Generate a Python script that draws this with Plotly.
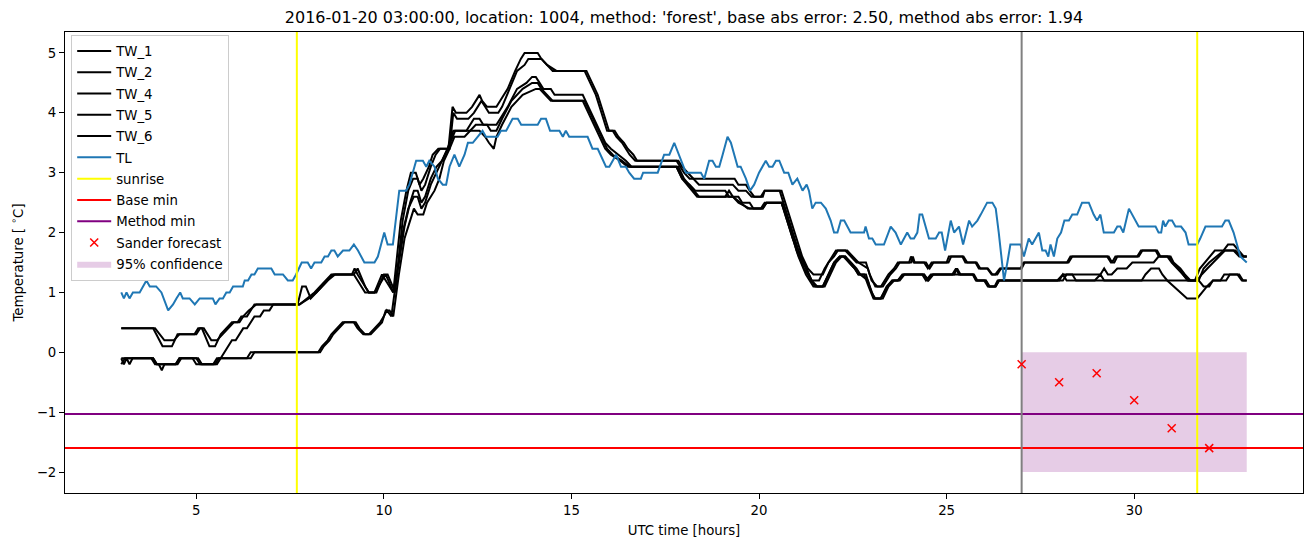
import plotly.graph_objects as go

# ---------------- data (hours UTC, temperature in deg C) ----------------
TL = [(3.0,1.0),(3.07,0.9),(3.14,1.0),(3.22,0.9),(3.31,1.0),(3.49,1.0),(3.67,1.2),(3.76,1.1),(3.93,1.1),(4.07,1.0),
      (4.25,0.7),(4.38,0.8),(4.47,0.9),(4.57,1.0),(4.64,0.9),(4.82,0.9),(4.96,0.8),(5.09,0.9),(5.44,0.9),(5.51,0.8),
      (5.62,0.9),(5.71,0.9),(5.8,1.0),(5.89,1.0),(5.98,1.1),(6.24,1.1),(6.29,1.2),(6.38,1.2),(6.47,1.3),(6.55,1.3),
      (6.64,1.4),(7.0,1.4),(7.09,1.3),(7.31,1.3),(7.44,1.2),(7.57,1.2),(7.66,1.3),(7.81,1.5),(7.97,1.5),(8.06,1.4),
      (8.15,1.5),(8.33,1.5),(8.42,1.6),(8.51,1.6),(8.6,1.7),(8.68,1.7),(8.77,1.6),(8.91,1.7),(9.08,1.7),(9.2,1.8),
      (9.31,1.7),(9.48,1.5),(9.75,1.5),(9.84,1.6),(10.01,2.0),(10.1,1.8),(10.24,1.8),(10.33,2.3),(10.41,2.7),(10.59,2.7),
      (10.68,2.8),(10.77,3.0),(10.86,3.2),(11.04,3.2),(11.13,3.1),(11.21,3.2),(11.35,3.1),(11.44,2.9),(11.57,2.8),(11.66,2.8),
      (11.75,3.1),(11.88,3.3),(12.01,3.1),(12.15,3.3),(12.24,3.5),(12.37,3.5),(12.5,3.6),(12.63,3.7),(12.72,3.6),(13.03,3.6),
      (13.12,3.7),(13.26,3.7),(13.43,3.9),(13.57,3.9),(13.66,3.8),(14.1,3.8),(14.19,3.9),(14.32,3.9),(14.43,3.7),(14.68,3.7),
      (14.77,3.6),(14.85,3.7),(14.94,3.6),(15.43,3.6),(15.56,3.4),(15.7,3.4),(15.92,3.1),(16.01,3.1),(16.19,3.3),(16.32,3.1),
      (16.45,3.1),(16.54,3.0),(16.67,2.9),(16.85,2.9),(16.91,3.0),(17.3,3.0),(17.47,3.3),(17.61,3.3),(17.74,3.5),(17.87,3.3),
      (18.05,3.0),(18.45,3.0),(18.54,2.9),(18.67,3.2),(18.76,3.2),(18.85,3.1),(18.94,3.1),(19.03,3.3),(19.16,3.6),(19.25,3.5),
      (19.43,3.1),(19.51,3.1),(19.65,2.9),(19.76,2.7),(19.87,2.8),(20.0,3.0),(20.18,3.2),(20.27,3.1),(20.36,3.1),(20.45,3.2),
      (20.54,3.2),(20.67,3.0),(20.78,3.0),(20.89,2.8),(21.02,2.9),(21.16,2.7),(21.27,2.8),(21.33,2.7),(21.42,2.4),(21.51,2.5),
      (21.65,2.5),(21.78,2.4),(21.91,2.2),(22.0,2.0),(22.09,2.0),(22.18,2.2),(22.27,2.2),(22.44,2.0),(22.8,2.0),(22.84,2.1),
      (22.93,1.9),(23.02,1.9),(23.11,1.8),(23.33,1.8),(23.51,2.1),(23.64,2.0),(23.78,1.8),(23.95,2.0),(24.04,1.9),(24.13,1.9),
      (24.22,2.0),(24.28,2.3),(24.35,2.3),(24.53,1.9),(24.71,1.9),(24.8,2.0),(24.87,2.0),(24.96,1.7),(25.11,2.2),(25.2,2.0),
      (25.33,2.1),(25.44,1.8),(25.6,2.2),(25.68,2.1),(25.82,2.2),(25.91,2.3),(25.99,2.4),(26.08,2.5),(26.22,2.5),(26.31,2.4),
      (26.39,2.0),(26.53,1.2),(26.62,1.5),(26.7,1.8),(26.97,1.8),(27.06,1.6),(27.19,1.9),(27.28,1.8),(27.46,2.0),(27.55,1.7),
      (27.64,1.7),(27.71,1.6),(27.77,1.8),(27.86,1.6),(27.95,1.9),(28.05,2.0),(28.14,2.2),(28.26,2.2),(28.35,2.3),(28.48,2.3),
      (28.61,2.5),(28.79,2.5),(28.92,2.3),(29.01,2.2),(29.1,2.3),(29.19,2.0),(29.46,2.0),(29.55,2.1),(29.63,2.1),(29.71,2.0),
      (29.86,2.4),(29.95,2.3),(30.12,2.1),(30.57,2.1),(30.65,2.0),(30.72,2.0),(30.77,2.2),(30.83,2.1),(30.92,2.2),(31.01,2.2),
      (31.1,2.1),(31.25,2.1),(31.37,2.0),(31.45,1.8),(31.68,1.8),(31.76,1.9),(31.9,2.1),(32.34,2.1),(32.43,2.2),(32.52,2.2),
      (32.65,2.0),(32.74,1.8),(32.83,1.6),(33.0,1.5)]

TW_1 = [(3.0,0.4),(3.85,0.4),(4.1,0.1),(4.35,0.1),(4.5,0.3),(4.95,0.3),(5.05,0.4),(5.15,0.4),(5.35,0.1),(5.5,0.1),
        (5.65,0.3),(5.8,0.4),(5.95,0.5),(6.1,0.5),(6.2,0.6),(6.35,0.6),(6.45,0.7),(6.55,0.8),(7.75,0.8),(7.95,0.9),
        (8.15,1.0),(8.3,1.1),(8.45,1.2),(8.6,1.3),(9.15,1.3),(9.22,1.4),(9.3,1.3),(9.5,1.1),(9.6,1.0),(9.75,1.0),
        (9.95,1.3),(10.05,1.2),(10.25,1.0),(10.35,1.6),(10.45,2.2),(10.6,2.7),(10.72,3.0),(10.85,3.0),(10.95,2.8),(11.05,2.9),
        (11.2,3.1),(11.3,3.3),(11.45,3.4),(11.72,3.4),(11.83,4.1),(11.92,4.0),(12.2,4.0),(12.35,4.1),(12.45,4.2),(12.55,4.3),
        (12.62,4.2),(12.75,4.1),(13.0,4.1),(13.1,4.2),(13.3,4.4),(13.5,4.7),(13.65,4.9),(13.75,5.0),(14.1,5.0),(14.2,4.9),
        (14.35,4.8),(14.5,4.7),(15.35,4.7),(15.5,4.5),(15.65,4.3),(15.8,4.0),(15.95,3.7),(16.1,3.7),(16.2,3.6),(16.35,3.5),
        (16.45,3.4),(16.55,3.3),(16.7,3.2),(17.8,3.2),(17.9,3.1),(18.0,3.0),(18.15,2.9),(19.35,2.9),(19.45,2.8),(19.65,2.8),
        (19.75,2.7),(19.87,2.6),(20.1,2.6),(20.15,2.7),(20.6,2.7),(20.7,2.5),(20.85,2.2),(21.0,1.9),(21.15,1.6),(21.3,1.4),
        (21.45,1.3),(21.7,1.3),(21.85,1.5),(22.0,1.6),(22.1,1.7),(22.3,1.7),(22.45,1.6),(22.6,1.5),(22.85,1.5),(22.95,1.3),
        (23.1,1.1),(23.25,1.1),(23.45,1.3),(23.6,1.4),(23.7,1.5),(24.05,1.5),(24.1,1.6),(24.15,1.5),(24.4,1.5),(24.5,1.4),
        (24.6,1.5),(25.0,1.5),(25.06,1.6),(25.42,1.6),(25.5,1.5),(25.77,1.5),(25.86,1.4),(26.08,1.4),(26.2,1.3),(26.3,1.3),
        (26.42,1.4),(26.97,1.4),(27.05,1.5),(28.21,1.5),(28.3,1.6),(29.32,1.6),(29.41,1.5),(29.5,1.6),(30.08,1.6),(30.18,1.7),
        (30.61,1.7),(30.7,1.6),(30.97,1.6),(31.05,1.5),(31.23,1.4),(31.35,1.3),(31.5,1.2),(31.62,1.2),(31.75,1.4),(31.88,1.5),
        (32.0,1.6),(32.15,1.7),(32.38,1.7),(32.5,1.8),(32.65,1.8),(32.78,1.7),(32.92,1.6),(33.0,1.6)]

TW_2 = [(3.0,0.4),(3.9,0.4),(4.15,0.2),(4.4,0.2),(4.55,0.3),(5.0,0.3),(5.1,0.4),(5.2,0.4),(5.4,0.2),(5.55,0.2),
        (5.7,0.3),(5.85,0.4),(6.0,0.5),(6.15,0.5),(6.25,0.6),(6.4,0.7),(6.6,0.8),(7.75,0.8),(8.0,0.9),(8.2,1.0),
        (8.35,1.1),(8.5,1.2),(8.65,1.3),(9.2,1.3),(9.5,1.0),(9.8,1.0),(10.0,1.3),(10.1,1.3),(10.3,1.0),(10.4,1.6),
        (10.5,2.2),(10.65,2.7),(10.78,2.9),(10.9,2.9),(11.0,2.7),(11.1,2.8),(11.25,3.1),(11.38,3.3),(11.5,3.4),(11.75,3.4),
        (11.85,4.0),(11.95,3.9),(12.25,3.9),(12.4,4.0),(12.5,4.1),(12.6,4.2),(12.7,4.1),(12.8,4.0),(13.05,4.0),(13.15,4.1),
        (13.35,4.4),(13.55,4.7),(13.75,4.8),(13.85,4.9),(14.2,4.9),(14.35,4.8),(14.6,4.7),(15.4,4.7),(15.55,4.5),(15.7,4.3),
        (15.85,4.0),(16.0,3.7),(16.15,3.7),(16.25,3.6),(16.4,3.5),(16.5,3.4),(16.65,3.3),(16.75,3.2),(17.85,3.2),(17.95,3.1),
        (18.1,3.0),(18.25,2.9),(18.4,2.8),(19.3,2.8),(19.45,2.7),(19.65,2.7),(19.8,2.6),(20.05,2.6),(20.15,2.7),(20.55,2.7),
        (20.65,2.5),(20.8,2.2),(20.95,1.9),(21.1,1.6),(21.25,1.4),(21.4,1.2),(21.6,1.2),(21.75,1.4),(21.95,1.6),(22.05,1.7),
        (22.35,1.7),(22.5,1.6),(22.65,1.5),(22.9,1.4),(23.0,1.2),(23.15,1.1),(23.3,1.1),(23.5,1.3),(23.65,1.4),(23.75,1.5),
        (24.0,1.5),(24.05,1.6),(24.12,1.5),(24.45,1.5),(24.55,1.4),(24.65,1.5),(25.05,1.5),(25.12,1.6),(25.45,1.6),(25.55,1.5),
        (25.8,1.5),(25.9,1.4),(26.1,1.4),(26.22,1.3),(26.35,1.3),(26.45,1.4),(27.0,1.4),(27.08,1.5),(28.25,1.5),(28.35,1.6),
        (29.28,1.6),(29.38,1.5),(29.47,1.5),(29.55,1.6),(30.12,1.6),(30.22,1.7),(30.57,1.7),(30.66,1.6),(30.93,1.6),(31.02,1.5),
        (31.2,1.4),(31.3,1.3),(31.42,1.2),(31.68,1.2),(31.8,1.3),(31.95,1.4),(32.1,1.5),(32.25,1.6),(32.42,1.7),(32.7,1.7),
        (32.85,1.6),(33.0,1.6)]

TW_4 = [(3.0,-0.1),(3.07,-0.2),(3.14,-0.1),(3.22,-0.2),(3.3,-0.1),(3.85,-0.1),(3.95,-0.2),(4.45,-0.2),(4.55,-0.1),(5.05,-0.1),
        (5.15,-0.2),(5.55,-0.2),(5.65,-0.1),(5.75,0.0),(5.85,0.1),(5.95,0.2),(6.05,0.2),(6.15,0.3),(6.25,0.4),(6.35,0.4),
        (6.45,0.5),(6.55,0.6),(6.7,0.6),(6.8,0.7),(6.95,0.7),(7.05,0.8),(7.7,0.8),(7.82,1.1),(7.92,1.1),(8.05,0.9),
        (8.2,1.0),(8.35,1.1),(8.5,1.2),(8.7,1.3),(9.2,1.3),(9.3,1.4),(9.5,1.1),(9.6,1.0),(9.75,1.0),(9.95,1.2),
        (10.05,1.3),(10.25,1.0),(10.4,1.5),(10.55,2.1),(10.7,2.5),(10.8,2.7),(10.9,2.7),(11.0,2.5),(11.1,2.6),(11.25,2.9),
        (11.4,3.1),(11.55,3.2),(11.7,3.4),(11.85,3.7),(12.2,3.7),(12.3,3.8),(12.4,3.9),(12.55,3.9),(12.65,3.8),(13.0,3.8),
        (13.1,3.9),(13.3,4.1),(13.55,4.4),(13.8,4.5),(13.95,4.6),(14.05,4.6),(14.15,4.5),(14.25,4.4),(14.45,4.4),(14.55,4.3),
        (15.3,4.3),(15.45,4.1),(15.6,3.9),(15.75,3.7),(15.9,3.5),(16.05,3.4),(16.25,3.3),(16.45,3.2),(16.6,3.1),(17.8,3.1),
        (17.95,2.9),(18.15,2.8),(18.3,2.7),(19.1,2.7),(19.2,2.6),(19.45,2.6),(19.55,2.5),(19.75,2.5),(19.85,2.4),(20.1,2.4),
        (20.2,2.5),(20.6,2.5),(20.75,2.2),(20.9,1.9),(21.05,1.7),(21.2,1.5),(21.4,1.2),(21.5,1.1),(21.7,1.1),(21.85,1.3),
        (22.0,1.5),(22.15,1.6),(22.3,1.6),(22.4,1.5),(22.55,1.4),(22.65,1.3),(22.8,1.3),(22.92,1.1),(23.05,0.9),(23.25,0.9),
        (23.4,1.1),(23.55,1.2),(23.7,1.2),(23.82,1.3),(24.4,1.3),(24.5,1.2),(24.62,1.3),(25.2,1.3),(25.28,1.4),(25.37,1.3),
        (25.73,1.3),(25.82,1.2),(26.04,1.2),(26.13,1.1),(26.31,1.1),(26.4,1.2),(27.95,1.2),(28.1,1.3),(29.1,1.3),(29.2,1.4),
        (29.3,1.3),(29.4,1.3),(29.55,1.4),(29.8,1.4),(29.95,1.5),(30.52,1.5),(30.65,1.6),(30.88,1.6),(31.0,1.5),(31.15,1.4),
        (31.3,1.3),(31.45,1.2),(31.72,1.2),(31.85,1.4),(32.0,1.5),(32.2,1.6),(32.39,1.7),(32.65,1.7),(32.8,1.6),(33.0,1.6)]

TW_5 = [(3.0,-0.2),(3.1,-0.1),(3.8,-0.1),(3.9,-0.2),(4.0,-0.2),(4.08,-0.3),(4.15,-0.2),(4.5,-0.2),(4.6,-0.1),(4.9,-0.1),
        (5.0,-0.2),(5.45,-0.2),(5.55,-0.1),(6.45,-0.1),(6.55,0.0),(8.25,0.0),(8.35,0.1),(8.5,0.2),(8.6,0.3),(8.75,0.4),
        (8.9,0.5),(9.2,0.5),(9.3,0.4),(9.45,0.3),(9.6,0.3),(9.75,0.4),(9.9,0.5),(10.0,0.6),(10.08,0.7),(10.2,0.6),
        (10.35,1.3),(10.5,2.0),(10.65,2.4),(10.8,2.6),(10.9,2.6),(11.0,2.4),(11.1,2.5),(11.25,2.8),(11.4,3.0),(11.55,3.2),
        (11.7,3.4),(11.9,3.7),(12.3,3.7),(12.45,3.8),(12.75,3.8),(12.85,3.7),(13.0,3.7),(13.15,3.9),(13.4,4.2),(13.7,4.4),
        (13.95,4.5),(14.1,4.5),(14.2,4.4),(14.35,4.3),(14.5,4.2),(15.3,4.2),(15.45,4.0),(15.6,3.8),(15.75,3.6),(15.9,3.4),
        (16.05,3.3),(16.3,3.2),(16.5,3.1),(17.8,3.1),(17.95,2.9),(18.2,2.7),(18.35,2.6),(19.1,2.6),(19.2,2.7),(19.3,2.6),
        (19.5,2.5),(19.7,2.4),(20.1,2.4),(20.2,2.5),(20.6,2.5),(20.75,2.2),(20.9,1.9),(21.05,1.6),(21.25,1.3),(21.45,1.1),
        (21.7,1.1),(21.85,1.3),(22.0,1.5),(22.15,1.6),(22.25,1.6),(22.4,1.5),(22.55,1.4),(22.65,1.3),(22.85,1.3),(22.95,1.1),
        (23.07,0.9),(23.24,0.9),(23.42,1.1),(23.55,1.2),(23.7,1.2),(23.85,1.3),(24.35,1.3),(24.45,1.2),(24.58,1.3),(25.15,1.3),
        (25.25,1.4),(25.33,1.3),(25.7,1.3),(25.78,1.2),(26.0,1.2),(26.1,1.1),(26.28,1.1),(26.36,1.2),(28.0,1.2),(28.1,1.3),
        (28.2,1.2),(28.95,1.2),(29.1,1.3),(29.2,1.2),(30.2,1.2),(30.3,1.3),(30.45,1.4),(30.66,1.4),(30.75,1.3),(30.88,1.2),
        (31.05,1.1),(31.23,1.0),(31.41,0.9),(31.68,0.9),(31.81,1.0),(31.94,1.1),(32.1,1.2),(32.3,1.2),(32.4,1.3),(32.75,1.3),
        (32.87,1.2),(33.0,1.2)]

TW_6 = [(3.0,-0.1),(3.85,-0.1),(3.95,-0.2),(4.45,-0.2),(4.55,-0.1),(5.0,-0.1),(5.1,-0.2),(5.5,-0.2),(5.6,-0.1),(6.35,-0.1),
        (6.45,0.0),(8.3,0.0),(8.4,0.1),(8.55,0.2),(8.65,0.3),(8.8,0.4),(8.95,0.5),(9.25,0.5),(9.35,0.4),(9.5,0.3),
        (9.65,0.3),(9.8,0.4),(9.95,0.5),(10.05,0.7),(10.15,0.7),(10.25,0.6),(10.4,1.3),(10.55,1.9),(10.7,2.2),(10.8,2.4),
        (10.9,2.3),(11.05,2.3),(11.15,2.5),(11.35,2.7),(11.48,2.9),(11.6,3.2),(11.75,3.4),(11.88,3.6),(12.15,3.6),(12.3,3.7),
        (12.55,3.7),(12.7,3.6),(12.8,3.5),(12.93,3.4),(13.0,3.6),(13.15,3.8),(13.4,4.1),(13.7,4.3),(14.05,4.4),(14.15,4.4),
        (14.3,4.3),(14.45,4.2),(15.35,4.2),(15.5,4.0),(15.65,3.8),(15.8,3.6),(15.95,3.4),(16.1,3.3),(16.35,3.2),(16.55,3.1),
        (17.85,3.1),(18.0,2.9),(18.25,2.7),(18.4,2.6),(19.3,2.6),(19.45,2.5),(19.75,2.4),(20.05,2.4),(20.15,2.5),(20.6,2.5),
        (20.72,2.3),(20.85,2.0),(21.0,1.7),(21.2,1.4),(21.4,1.2),(21.55,1.1),(21.75,1.1),(21.9,1.3),(22.05,1.5),(22.2,1.6),
        (22.3,1.6),(22.45,1.5),(22.6,1.4),(22.7,1.3),(22.9,1.2),(23.0,1.0),(23.1,0.9),(23.3,0.9),(23.45,1.1),(23.6,1.2),
        (23.75,1.2),(23.88,1.3),(24.4,1.3),(24.52,1.2),(24.65,1.3),(25.7,1.3),(25.8,1.2),(26.05,1.2),(26.15,1.1),(26.3,1.1),
        (26.4,1.2),(28.1,1.2),(28.2,1.3),(28.35,1.3),(28.45,1.2),(31.72,1.2),(31.85,1.1),(32.0,1.1),(32.1,1.2),(32.45,1.2),
        (32.55,1.3),(32.8,1.3),(32.9,1.2),(33.0,1.2)]

tw_series = {"TW_1": TW_1, "TW_2": TW_2, "TW_4": TW_4, "TW_5": TW_5, "TW_6": TW_6}

sunrise_hours = [7.68, 31.68]
forecast_start = 27.0
base_min = -1.6
method_min = -1.03
sander_hours = [27, 28, 29, 30, 31, 32]
sander_values = [-0.2, -0.5, -0.35, -0.8, -1.27, -1.6]
conf_hours = [27, 33]
conf_low = -2.0
conf_high = 0.0

x_ticks = [5, 10, 15, 20, 25, 30]
y_ticks = [-2, -1, 0, 1, 2, 3, 4, 5]
X_RANGE = [1.5, 34.5]
Y_RANGE = [-2.35, 5.35]

title = ("2016-01-20 03:00:00, location: 1004, method: 'forest', "
         "base abs error: 2.50, method abs error: 1.94")

# ---------------- figure ----------------
FONT = "DejaVu Sans, Liberation Sans, sans-serif"
fig = go.Figure()

# confidence band (drawn first, listed last)
fig.add_trace(go.Scatter(
    x=[conf_hours[0], conf_hours[1], conf_hours[1], conf_hours[0], conf_hours[0]],
    y=[conf_low, conf_low, conf_high, conf_high, conf_low],
    fill="toself", fillcolor="rgba(128,0,128,0.2)", mode="lines",
    line=dict(width=0, color="rgba(128,0,128,0)"),
    name="95% confidence", legendrank=1011, legendgroup="g11"))

rank = 1000
for i, (name, pts) in enumerate(tw_series.items()):
    fig.add_trace(go.Scatter(x=[p[0] for p in pts], y=[p[1] for p in pts], mode="lines",
                             line=dict(color="black", width=2), name=name,
                             legendrank=rank + i, legendgroup=f"g{i}"))

fig.add_trace(go.Scatter(x=[p[0] for p in TL], y=[p[1] for p in TL], mode="lines",
                         line=dict(color="#1f77b4", width=2), name="TL",
                         legendrank=1005, legendgroup="g5"))

sx, sy = [], []
for h in sunrise_hours:
    sx += [h, h, None]
    sy += [Y_RANGE[0], Y_RANGE[1], None]
fig.add_trace(go.Scatter(x=sx, y=sy, mode="lines", line=dict(color="yellow", width=2),
                         name="sunrise", legendrank=1006, legendgroup="g6"))

fig.add_trace(go.Scatter(x=X_RANGE, y=[base_min, base_min], mode="lines",
                         line=dict(color="red", width=2), name="Base min",
                         legendrank=1007, legendgroup="g7"))
fig.add_trace(go.Scatter(x=X_RANGE, y=[method_min, method_min], mode="lines",
                         line=dict(color="purple", width=2), name="Method min",
                         legendrank=1008, legendgroup="g8"))

fig.add_trace(go.Scatter(x=[forecast_start, forecast_start], y=Y_RANGE, mode="lines",
                         line=dict(color="gray", width=2), showlegend=False))

fig.add_trace(go.Scatter(x=sander_hours, y=sander_values, mode="markers",
                         marker=dict(symbol="x-thin", size=8, color="red",
                                     line=dict(width=1.5, color="red")),
                         name="Sander forecast", legendrank=1009, legendgroup="g9"))

axis_common = dict(showline=True, linecolor="black", linewidth=1, mirror=True,
                   ticks="outside", ticklen=5, tickwidth=1, tickcolor="black",
                   showgrid=False, zeroline=False,
                   tickfont=dict(family=FONT, size=13.3, color="black"))

fig.update_layout(
    width=1313, height=547,
    margin=dict(l=65, r=10, t=32, b=54),
    paper_bgcolor="white", plot_bgcolor="white",
    font=dict(family=FONT, color="black"),
    title=dict(text=title, x=0.5, xref="paper", xanchor="center",
               y=1 - 17 / 547, yref="container", yanchor="middle",
               font=dict(family=FONT, size=16, color="black")),
    xaxis=dict(range=X_RANGE, tickvals=x_ticks,
               title=dict(text="UTC time [hours]", standoff=8,
                          font=dict(family=FONT, size=13.3)),
               **axis_common),
    yaxis=dict(range=Y_RANGE, tickvals=y_ticks,
               title=dict(text="Temperature [ <sup>∘</sup>C]", standoff=10,
                          font=dict(family=FONT, size=13.3)),
               **axis_common),
    legend=dict(x=0.005, y=0.994, xanchor="left", yanchor="top",
                bgcolor="rgba(255,255,255,0.85)", bordercolor="#cccccc", borderwidth=1,
                font=dict(family=FONT, size=13.3, color="black"),
                tracegroupgap=1, itemwidth=34),
    showlegend=True,
)

fig.write_html("out.html")
